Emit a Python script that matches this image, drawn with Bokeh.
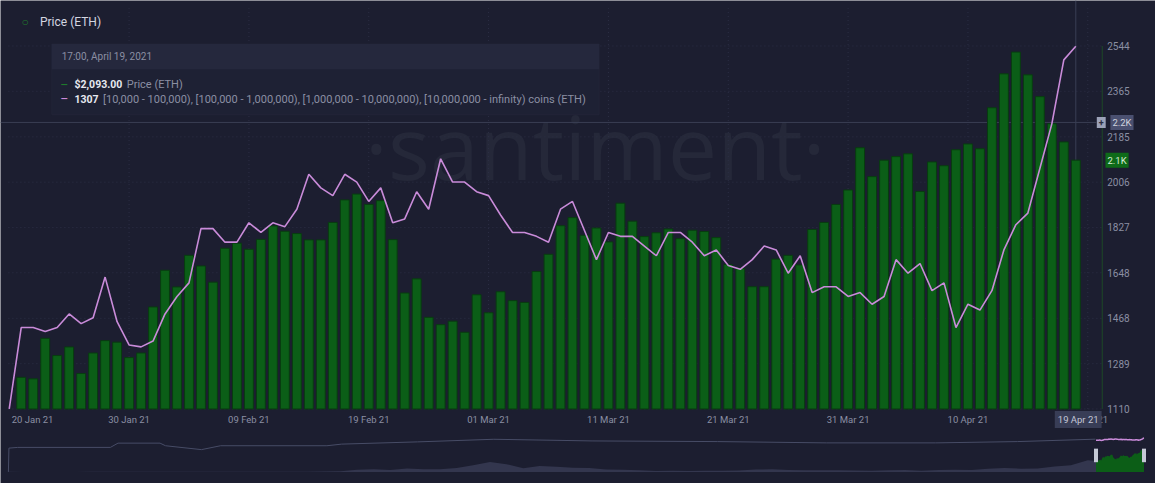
from bokeh.plotting import figure
from bokeh.models import Range1d, Label, BoxAnnotation
from bokeh.embed import file_html
from bokeh.resources import INLINE
from bokeh.core.properties import value

# ---------------- data ----------------
# daily bars, 21 Jan 2021 (index 0) .. 19 Apr 2021 (index 88)
bar_day = list(range(89))
price_eth = [1235, 1229, 1389, 1321, 1355, 1250, 1331, 1380, 1374, 1313,
             1331, 1513, 1658, 1592, 1717, 1675, 1611, 1745, 1765, 1741,
             1780, 1833, 1812, 1803, 1778, 1778, 1847, 1936, 1959, 1918,
             1933, 1779, 1568, 1624, 1472, 1443, 1457, 1413, 1561, 1490,
             1573, 1538, 1531, 1653, 1721, 1834, 1866, 1796, 1825, 1770,
             1923, 1852, 1791, 1806, 1821, 1783, 1816, 1811, 1787, 1681,
             1666, 1593, 1593, 1702, 1717, 1679, 1819, 1847, 1918, 1975,
             2142, 2028, 2093, 2107, 2118, 1969, 2086, 2071, 2134, 2157,
             2138, 2300, 2434, 2520, 2430, 2344, 2237, 2165, 2093]
# holders line, 20 Jan 2021 (index -1) .. 19 Apr 2021 (index 88)
holder_day = list(range(-1, 89))
holders = [1120,
           1162, 1162, 1160, 1162, 1169, 1164, 1167, 1188, 1165, 1153,
           1152, 1155, 1169, 1178, 1185, 1213, 1213, 1206, 1206, 1216,
           1211, 1216, 1214, 1223, 1241, 1234, 1230, 1241, 1237, 1227,
           1234, 1216, 1218, 1232, 1223, 1249, 1237, 1237, 1232, 1230,
           1220, 1211, 1211, 1209, 1206, 1223, 1227, 1212, 1197, 1211,
           1209, 1209, 1204, 1199, 1211, 1211, 1206, 1199, 1202, 1194,
           1192, 1197, 1204, 1202, 1190, 1199, 1180, 1183, 1183, 1178,
           1180, 1174, 1178, 1197, 1190, 1195, 1181, 1185, 1162, 1174,
           1171, 1181, 1202, 1215, 1221, 1244, 1267, 1300, 1307]
x_tick_day = [-1, 9, 19, 29, 39, 49, 59, 69, 79, 89]
x_tick_label = ["20 Jan 21", "30 Jan 21", "09 Feb 21", "19 Feb 21", "01 Mar 21",
                "11 Mar 21", "21 Mar 21", "31 Mar 21", "10 Apr 21", "20 Apr 21"]
y_ticks = [1110, 1289, 1468, 1648, 1827, 2006, 2185, 2365, 2544]
y_tick_label = [str(t) for t in y_ticks]

# navigator (full history, days since 7 Aug 2015)
nav_month_price = [1.2, 0.9, 0.9, 0.9, 0.9,
                   2.2, 6.4, 11.4, 8.9, 14, 12.5, 11.4, 11.6, 13.2, 11.2, 8.6, 8.0,
                   10.7, 16, 50, 80, 230, 290, 200, 385, 300, 305, 445, 756,
                   1120, 870, 400, 670, 577, 455, 433, 283, 232, 198, 113, 133,
                   107, 136, 141, 160, 268, 290, 218, 172, 180, 182, 151, 130,
                   180, 218, 133, 206, 231, 226, 345, 435, 360, 386, 615, 737,
                   1314]
nav_month_day = [round(i * 30.44) for i in range(len(nav_month_price))]
nav_line_day = [0, 1, 17, 187, 201, 278, 288, 354, 389, 584, 611, 750, 890, 1070,
                1300, 1500, 1700, 1850, 1993]
nav_line_val = [0, 1090, 1123, 1123, 1319, 1319, 1199, 1021, 1199, 1199, 1274, 1376,
                1496, 1420, 1390, 1330, 1330, 1390, 1500]
sel_start = 1994

# ---------------- layout helpers ----------------
# positions are given in reference pixels (1171x499) and mapped onto the 1155x483 canvas
W, H = 1155, 483
SY = H / 499
BG = "#1c1e30"
GREY = "#8b8fa3"
FONT = "Roboto"
STEP, X0 = 12.15, 21.0      # ref px per day, ref x of day 0
PSCALE = 3.824              # price per ref px


def jx(px):
    return (px - X0) / STEP


def py(px):
    return 1110 + (422 - px) * PSCALE


def hy(px):
    return 1120 + (422 - px) * 187 / 374.7


NPX = 0.553  # navigator: ref px per day


def nday(px):
    return (px - 8) / NPX


def nv(px):
    return (487 - px) * 109.57


def nh(px):
    return (487 - px) * 44.4


def ns(px):
    return 1120 + (455 - px) * 62.33


p = figure(width=W, height=H, x_range=Range1d(jx(0), jx(1171)),
           y_range=Range1d(py(499), py(0)),
           x_axis_location=None, y_axis_location=None,
           output_backend="svg", toolbar_location=None, min_border=0,
           background_fill_color=BG, border_fill_color=BG, outline_line_color=None)
p.grid.visible = False
p.extra_y_ranges = {"holders": Range1d(hy(499), hy(0)),
                    "navp": Range1d(nv(499), nv(0)),
                    "navh": Range1d(nh(499), nh(0)),
                    "navs": Range1d(ns(499), ns(0))}
p.extra_x_ranges = {"nav": Range1d(nday(0), nday(1171))}

# watermark
p.add_layout(Label(x=jx(603), y=py(150), text="\u00b7santiment\u00b7", text_align="center",
                   text_baseline="alphabetic", text_font="Open Sans", text_font_size="88px",
                   text_color="#252839", level="underlay"))

# grid (dotted)
p.segment(x0=[jx(8)] * len(y_ticks), x1=[jx(1117)] * len(y_ticks), y0=y_ticks, y1=y_ticks,
          line_color="#2c2f45", line_dash="1 3", line_width=1)
p.segment(x0=x_tick_day[1:], x1=x_tick_day[1:], y0=[y_ticks[0]] * 9, y1=[py(8)] * 9,
          line_color="#2c2f45", line_dash="1 3", line_width=1)

# right axis line + tick labels
p.segment(x0=[jx(1117)], x1=[jx(1117)], y0=[y_ticks[0]], y1=[y_ticks[-1]],
          line_color="#1d4a27", line_width=1)
p.text(x=[jx(1122)] * len(y_ticks), y=y_ticks, text=y_tick_label, text_align="left",
       text_baseline="middle", text_color=GREY, text_font=value(FONT), text_font_size="10px")

# x tick labels (first one kept inside the chart)
label_x = [max(d, jx(32.5)) for d in x_tick_day]
p.text(x=label_x, y=[py(433)] * len(label_x), text=x_tick_label, text_align="center",
       text_baseline="middle", text_color=GREY, text_font=value(FONT), text_font_size="9.5px")

# crosshair
p.segment(x0=[bar_day[-1]], x1=[bar_day[-1]], y0=[1110], y1=[py(0)], line_color="#3a3e54", line_width=1)
p.segment(x0=[jx(0)], x1=[jx(1111)], y0=[2242], y1=[2242], line_color="#3a3e54", line_width=1)

# main marks
p.vbar(x=bar_day, top=price_eth, bottom=1110, width=0.74,
       fill_color="#0b5e17", line_color="#083c10", line_width=1)
p.line(x=holder_day, y=holders, y_range_name="holders", line_color="#c98bd9", line_width=1.6)

# navigator marks
p.varea(x=nav_month_day + [sel_start], y1=0, y2=nav_month_price + [price_eth[0]],
        x_range_name="nav", y_range_name="navp", fill_color="#33364e")
sel_day = [sel_start + d for d in bar_day]
p.varea(x=sel_day, y1=0, y2=price_eth, x_range_name="nav", y_range_name="navp", fill_color="#0c5e17")
p.line(x=nav_line_day, y=nav_line_val, x_range_name="nav", y_range_name="navh",
       line_color="#474c66", line_width=1)
p.line(x=[sel_start + d for d in holder_day[1:]], y=holders[1:], x_range_name="nav", y_range_name="navs",
       line_color="#c98bd9", line_width=1.5)
p.rect(x=[sel_day[0], sel_day[-1]], y=[nv(470)] * 2, width=4, height=14 * SY,
       x_range_name="nav", y_range_name="navp",
       width_units="screen", height_units="screen", fill_color="#c5c9d6", line_color=None)

# legend title
p.add_layout(Label(x=jx(25), y=py(22), text="\u25cb", text_color="#1f7a2c", text_align="center",
                   text_baseline="middle", text_font=FONT, text_font_size="12px"))
p.add_layout(Label(x=jx(40), y=py(22), text="Price (ETH)", text_color="#d4d6e0",
                   text_baseline="middle", text_font=FONT, text_font_size="12px"))

# tooltip
p.add_layout(BoxAnnotation(left=jx(52), right=jx(607), top=py(45), bottom=py(118),
                           fill_color="#1e2134", fill_alpha=1, line_color="#2e3147", line_width=1))
p.add_layout(BoxAnnotation(left=jx(52), right=jx(607), top=py(45), bottom=py(71),
                           fill_color="#25283d", fill_alpha=1, line_color=None))
p.add_layout(Label(x=jx(62), y=py(58), text="17:00, April 19, 2021", text_color=GREY,
                   text_baseline="middle", text_font=FONT, text_font_size="10px"))
p.add_layout(Label(x=jx(61), y=py(87), text="\u2014", text_color="#1f7a2c",
                   text_baseline="middle", text_font=FONT, text_font_size="9px", text_font_style="bold"))
p.add_layout(Label(x=jx(75), y=py(87), text="$2,093.00", text_color="#e6e8ef",
                   text_baseline="middle", text_font=FONT, text_font_size="10.5px", text_font_style="bold"))
p.add_layout(Label(x=jx(128), y=py(87), text="Price (ETH)", text_color=GREY,
                   text_baseline="middle", text_font=FONT, text_font_size="11px"))
p.add_layout(Label(x=jx(61), y=py(102), text="\u2014", text_color="#c98bd9",
                   text_baseline="middle", text_font=FONT, text_font_size="9px", text_font_style="bold"))
p.add_layout(Label(x=jx(75), y=py(102), text="1307", text_color="#e6e8ef",
                   text_baseline="middle", text_font=FONT, text_font_size="10.5px", text_font_style="bold"))
p.add_layout(Label(x=jx(104), y=py(102),
                   text="[10,000 - 100,000), [100,000  - 1,000,000), [1,000,000 - 10,000,000), [10,000,000 - infinity) coins (ETH)",
                   text_color=GREY, text_baseline="middle", text_font=FONT, text_font_size="11px"))

# crosshair value boxes
p.add_layout(Label(x=bar_day[-1] + 0.2, y=py(433), text="19 Apr 21", text_align="center",
                   text_baseline="middle", text_color="#c4c7d6", text_font=FONT, text_font_size="9.5px",
                   background_fill_color="#383d56", padding=3))
p.add_layout(Label(x=jx(1116), y=2242, text="+", text_align="center", text_baseline="middle",
                   text_color="#2a2d40", text_font=FONT, text_font_size="9px", text_font_style="bold",
                   background_fill_color="#9ca2b8", padding=2))
p.add_layout(Label(x=jx(1137), y=2242, text="2.2K", text_align="center", text_baseline="middle",
                   text_color="#cfd2df", text_font=FONT, text_font_size="9.5px",
                   background_fill_color="#4a5070", padding=2))
p.add_layout(Label(x=jx(1132), y=price_eth[-1], text="2.1K", text_align="center", text_baseline="middle",
                   text_color="#d6ecd6", text_font=FONT, text_font_size="9.5px",
                   background_fill_color="#0e6b19", padding=2))

open("out.html", "w").write(file_html(p, INLINE))
